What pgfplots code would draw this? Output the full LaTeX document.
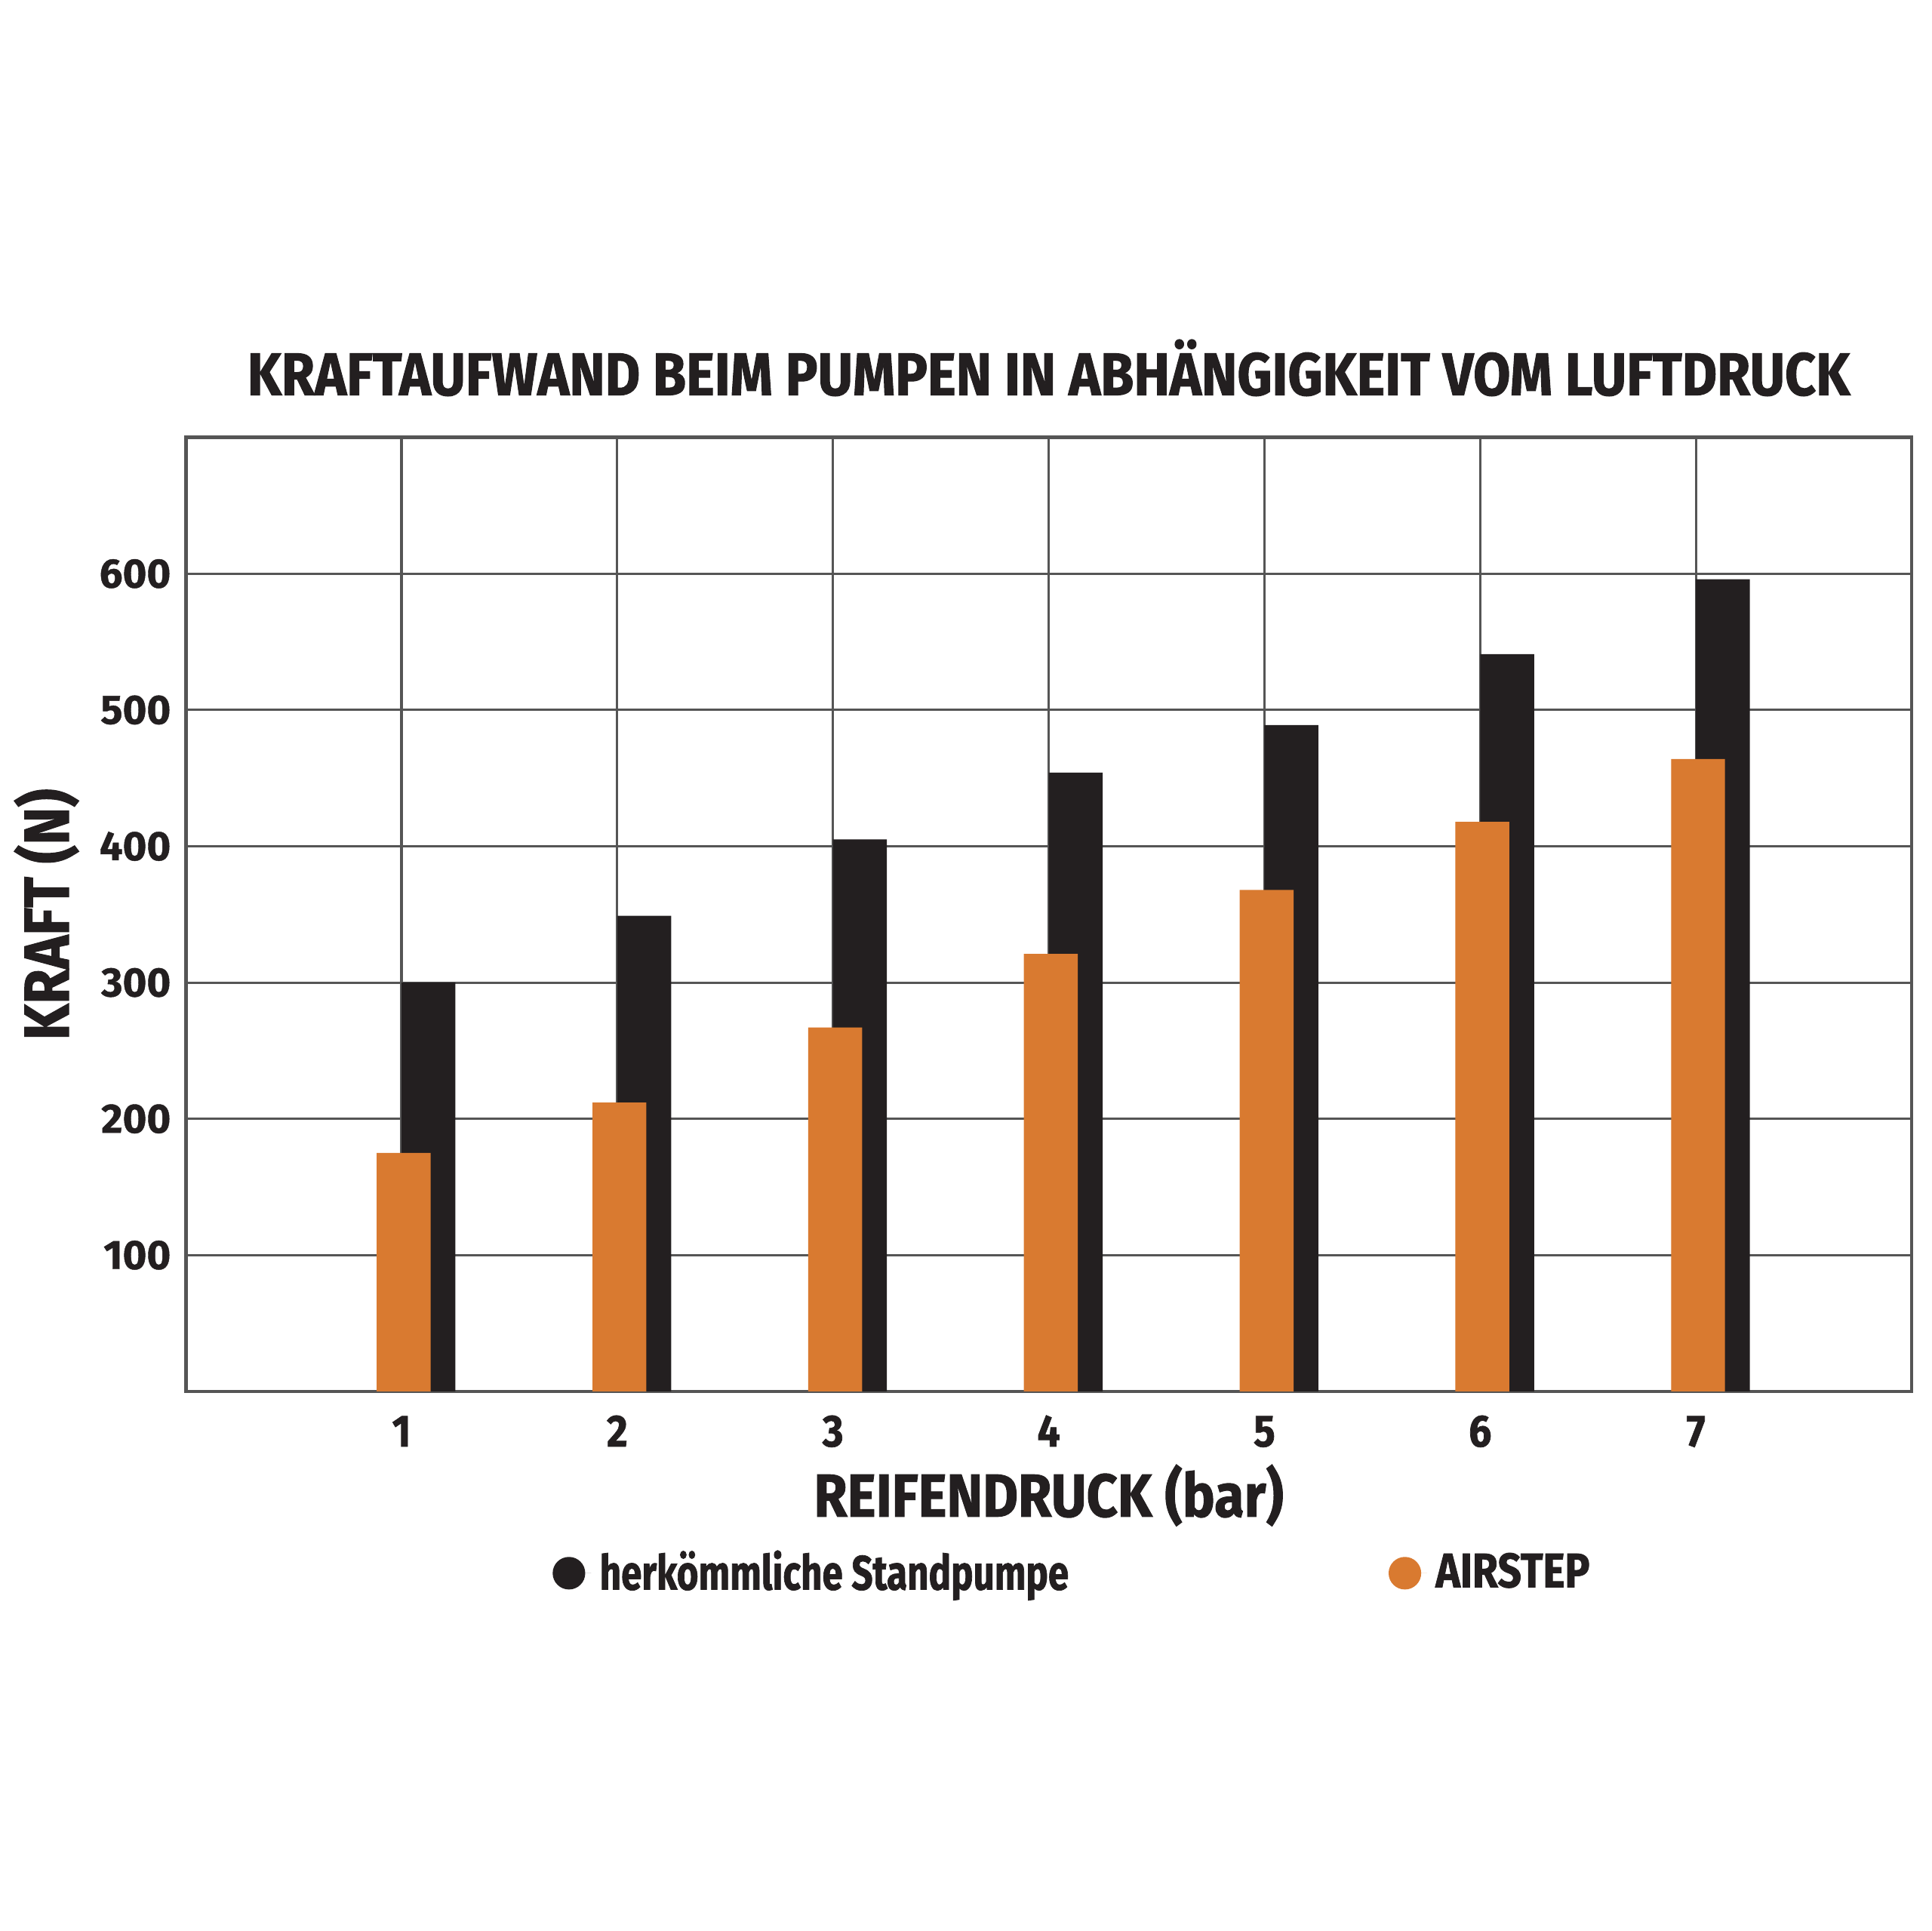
\documentclass[border=0pt]{standalone}
\usepackage{fontspec}
\setmainfont{Fira Sans}
\newfontfamily\condf{Fira Sans}[FakeStretch=0.895, FakeBold=1.2]
\newfontfamily\ytf{Fira Sans}[FakeBold=0.8]
\usepackage{pgfplots}
\pgfplotsset{compat=1.18}
\definecolor{barblack}{HTML}{231F20}
\definecolor{barorange}{HTML}{D97A30}
\definecolor{gridgray}{HTML}{555555}
\begin{document}
\begin{tikzpicture}
\begin{axis}[
  at={(0,0)}, anchor=south west,
  scale only axis, width=14.3cm, height=7.906cm,
  xmin=0, xmax=8, ymin=0, ymax=700,
  ybar,
  xtick={1,...,7}, ytick={100,200,...,600},
  major tick length=0pt,
  grid=major,
  grid style={gridgray, line width=0.55pt},
  axis line style={gridgray, line width=0.85pt},
  /pgf/number format/assume math mode=true,
  yticklabel style={font=\ytf\bfseries\fontsize{9.7}{10}\selectfont, text=barblack},
  xticklabel style={font=\condf\bfseries\fontsize{10.6}{11}\selectfont, text=barblack, anchor=base, yshift=-0.456cm},
  title={KRAFTAUFWAND BEIM PUMPEN IN ABHÄNGIGKEIT VOM LUFTDRUCK},
  every axis title/.style={at={(axis description cs:0.5,1.0443)}, anchor=base, font=\condf\bfseries\fontsize{14.2}{15}\selectfont, text=barblack},
  xlabel={REIFENDRUCK (bar)},
  xlabel style={at={(axis description cs:0.5,-0.1312)}, anchor=base, font=\condf\bfseries\fontsize{14.3}{15}\selectfont, text=barblack},
  ylabel={KRAFT (N)},
  ylabel style={at={(axis description cs:-0.0678,0.5)}, anchor=base, font=\condf\bfseries\fontsize{15}{16}\selectfont, text=barblack},
  legend columns=2,
  legend style={at={(axis description cs:0.5155,-0.1905)}, anchor=center, draw=none, fill=none,
    font=\condf\bfseries\fontsize{11.4}{12}\selectfont, text=barblack,
    /tikz/every even column/.append style={column sep=2.58cm}},
  legend image code/.code={\path (0cm,0cm) -- (0.32cm,0cm);\fill[#1] (0.135cm,0cm) circle (0.135cm);},
]
\addplot[fill=barblack, draw=none, bar width=0.25, bar shift=0.125]
  coordinates {(1,300) (2,349) (3,405) (4,454) (5,489) (6,541) (7,596)};
\addlegendentry{\scalebox{0.86}[1]{herkömmliche Standpumpe}}
\addplot[fill=barorange, draw=none, bar width=0.25, bar shift=0.01]
  coordinates {(1,175) (2,212) (3,267) (4,321) (5,368) (6,418) (7,464)};
\addlegendentry{\scalebox{0.96}[1]{AIRSTEP}}
\end{axis}
\path (-1.531cm,-4.469cm) rectangle (14.469cm,11.531cm);
\end{tikzpicture}
\end{document}
